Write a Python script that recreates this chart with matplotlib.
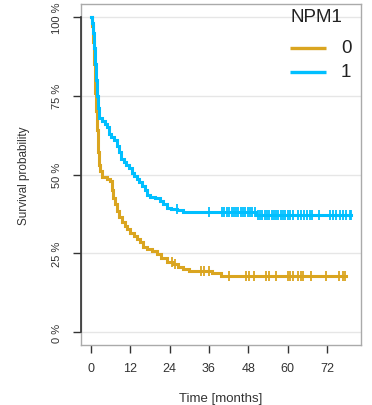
import matplotlib
matplotlib.use("Agg")
import matplotlib.pyplot as plt
import matplotlib.transforms as mtransforms
from matplotlib.lines import Line2D

plt.rcParams['font.family'] = ['Liberation Sans', 'DejaVu Sans']

# Kaplan-Meier step estimates (months, survival %) by NPM1 status
group_labels = ["0", "1"]
group_colors = ["#DAA520", "#00BFFF"]

npm1_0_time = [0, 0.3, 0.6, 0.9, 1.2, 1.5, 1.8, 2.1, 2.4, 2.7, 3.4, 4.9, 5.8, 6.3,
               6.7, 7.3, 7.9, 8.6, 9.5, 10.4, 11.0, 12.0, 13.0, 14.0, 15.0, 16.0,
               17.1, 18.5, 20.2, 21.5, 23.2, 25.0, 26.5, 28.0, 30.0, 37.0, 39.7, 77.9]
npm1_0_surv = [100, 97, 92, 85, 76, 70, 64, 57, 53, 51, 49.2, 48.6, 48.0, 45.0,
               42.5, 40.5, 38.5, 36.5, 35.0, 33.7, 32.7, 31.5, 30.5, 29.5, 28.5, 27.0,
               26.3, 25.8, 24.8, 23.5, 22.2, 21.5, 20.5, 20.0, 19.4, 18.6, 17.9, 17.9]
npm1_0_censor = [24.6, 25.6, 33.6, 34.5, 36.0, 42.1, 47.3, 48.2, 49.8, 53.4, 54.3,
                 56.5, 60.1, 60.8, 61.7, 63.2, 64.1, 64.8, 67.2, 71.8, 75.7, 76.9, 77.6]

npm1_1_time = [0, 0.3, 0.6, 0.9, 1.2, 1.5, 1.8, 2.1, 2.5, 3.4, 4.3, 4.9, 5.5, 6.1,
               7.0, 7.9, 8.5, 9.2, 10.0, 10.8, 11.6, 12.4, 13.2, 14.0, 14.8, 15.6,
               16.4, 17.2, 18.0, 19.5, 21.0, 22.0, 23.2, 24.5, 26.3, 28.0, 50.5, 79.4]
npm1_1_surv = [100, 98, 95, 90, 85, 80, 75, 71, 68, 67, 66, 65, 63, 62,
               61, 59, 57, 55, 54, 53, 52, 50.5, 49.5, 48.5, 47.5, 46.3,
               45.0, 43.5, 42.9, 42.5, 41.5, 40.6, 39.5, 39.0, 38.7, 38.1, 37.3, 37.3]
npm1_1_censor = [26.2, 36.1, 40.0, 40.5, 41.4, 42.2, 42.9, 43.6, 44.3, 45.0, 45.7,
                 46.4, 47.1, 47.8, 48.5, 49.2, 49.9, 50.9, 51.6, 52.3, 53.0, 53.7,
                 54.4, 55.1, 55.8, 56.5, 57.2, 57.9, 58.6, 59.3, 60.0, 60.7, 61.6,
                 63.1, 64.1, 65.1, 65.9, 66.7, 67.5, 69.7, 72.8, 73.8, 74.8, 75.9,
                 76.9, 77.9, 78.9, 79.4]

x_ticks = [0, 12, 24, 36, 48, 60, 72]
y_ticks = [0, 25, 50, 75, 100]
y_tick_labels = ["0 %", "25 %", "50 %", "75 %", "100 %"]

series = [
    (npm1_0_time, npm1_0_surv, npm1_0_censor),
    (npm1_1_time, npm1_1_surv, npm1_1_censor),
]

fig = plt.figure(figsize=(3.72, 4.06), dpi=100)
ax = fig.add_axes([81 / 372, 60 / 406, 280 / 372, 341 / 406])

for yv in y_ticks:
    ax.axhline(yv, color="#E6E6E6", lw=1.0, zorder=0)

for (t, s, c), col in zip(series, group_colors):
    ax.step(t, s, where="post", color=col, lw=2.2, solid_joinstyle="miter", zorder=3)
    # censoring marks sit on the curve at the censoring time
    cs = []
    for ct in c:
        val = s[0]
        for ti, si in zip(t, s):
            if ti <= ct:
                val = si
        cs.append(val)
    ax.plot(c, cs, linestyle="none", marker="|", markersize=7, markeredgewidth=1.3,
            color=col, zorder=4)

ax.set_xlim(-3.05, 82.4)
ax.set_ylim(-4.1, 104.1)

ax.set_xticks(x_ticks)
ax.set_xticklabels([str(v) for v in x_ticks])
ax.set_yticks(y_ticks)
ax.set_yticklabels(y_tick_labels, rotation=90, va="center")

ax.tick_params(axis="both", length=5.5, width=1.0, color="#333333",
               labelcolor="#333333")
ax.tick_params(axis="y", pad=8, labelsize=8)
ax.tick_params(axis="x", pad=7, labelsize=9)

for sp in ax.spines.values():
    sp.set_color("#AAAAAA")
    sp.set_linewidth(1.0)

# dark y axis line spanning the tick range
trans = mtransforms.blended_transform_factory(ax.transAxes, ax.transData)
ax.plot([0, 0], [y_ticks[0], y_ticks[-1]], transform=trans, color="#333333",
        lw=1.2, clip_on=False, zorder=5)

ax.set_xlabel("Time [months]", fontsize=9.5, color="#333333", labelpad=12.5)
ax.set_ylabel("Survival probability", fontsize=8.5, color="#333333", labelpad=16)

# legend: title above two colour keys, all left-aligned in the top-right corner
ax.text(0.75, 0.962, "NPM1", transform=ax.transAxes, fontsize=13.5,
        color="#222222", ha="left", va="center")
for label, col, yk in zip(group_labels, group_colors, [0.871, 0.801]):
    ax.add_line(Line2D([0.746, 0.875], [yk, yk], transform=ax.transAxes,
                       color=col, lw=2.4, solid_capstyle="butt"))
    ax.text(0.929, yk, label, transform=ax.transAxes, fontsize=13.5,
            color="#222222", ha="left", va="center")

fig.savefig("out.png", dpi=100, facecolor="white")
